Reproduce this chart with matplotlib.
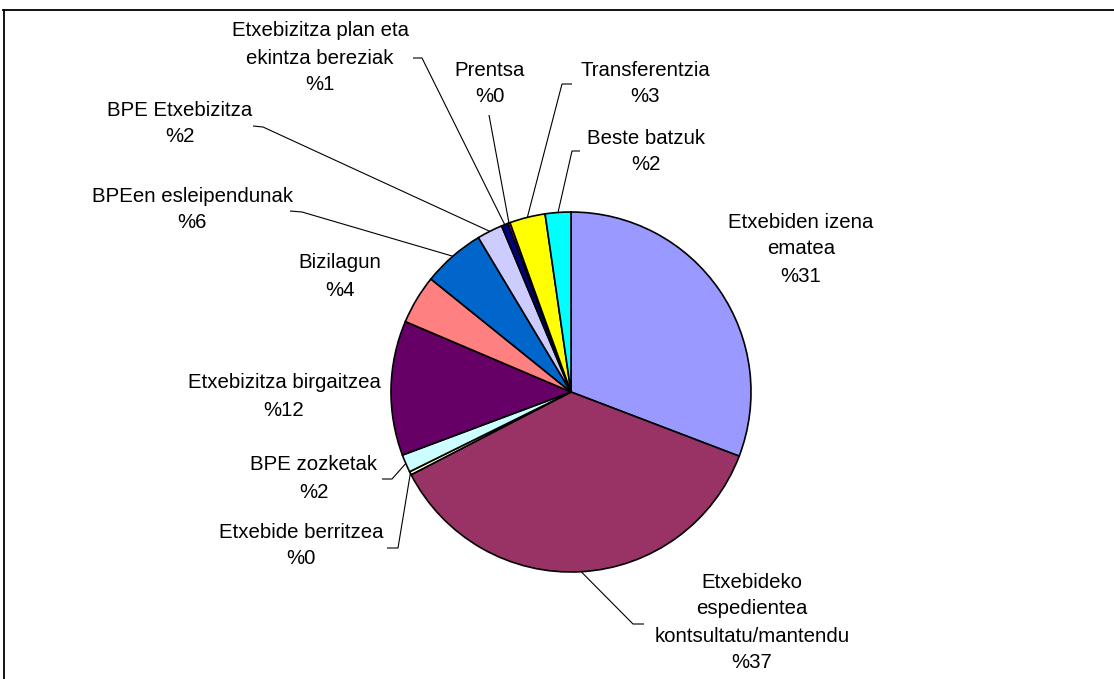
import numpy as np
import matplotlib
matplotlib.use("Agg")
import matplotlib.pyplot as plt
from matplotlib.lines import Line2D

W, H = 1114, 679

# ---- data (clockwise from 12 o'clock) ----
categories = [
    "Etxebiden izena\nematea",
    "Etxebideko\nespedientea\nkontsultatu/mantendu",
    "Etxebide berritzea",
    "BPE zozketak",
    "Etxebizitza birgaitzea",
    "Bizilagun",
    "BPEen esleipendunak",
    "BPE Etxebizitza",
    "Etxebizitza plan eta\nekintza bereziak",
    "Prentsa",
    "Transferentzia",
    "Beste batzuk",
]
values = [30.8, 36.6, 0.3, 1.6, 12.1, 4.4, 5.6, 2.3, 0.6, 0.2, 3.2, 2.3]
colors = ["#9999FF", "#993366", "#FFFFCC", "#CCFFFF", "#660066", "#FF8080",
          "#0066CC", "#CCCCFF", "#000080", "#FF00FF", "#FFFF00", "#00FFFF"]

# label layout (pixel coords, y downward): centre x, first line y
label_pos = [(801, 222), (752, 582), (301, 532), (314, 465), (284, 383),
             (340, 263), (192, 196), (180, 110), (320, 31), (490, 70),
             (645, 70), (646, 138)]
# leader line start segments (pixel coords) or None
leaders = [None,
           [(644, 624), (633, 624)],
           [(387, 548), (398, 548)],
           [(382, 479), (392, 479)],
           None, None,
           [(290, 211), (302, 212)],
           [(253, 126), (263, 127)],
           [(413, 58), (422, 58)],
           [(489, 115)],
           [(572, 84), (562, 84)],
           [(580, 151), (572, 151)]]

CX, CY, R = 571, 392, 180
LINE = 27

plt.rcParams['font.family'] = ['Liberation Sans', 'DejaVu Sans']

fig = plt.figure(figsize=(W / 100, H / 100), dpi=100)
ax = fig.add_axes([0, 0, 1, 1])

def Y(y):
    return H - y

wedges, _ = ax.pie(values, colors=colors, startangle=90, counterclock=False,
                   center=(CX, Y(CY)), radius=R,
                   wedgeprops=dict(edgecolor="black", linewidth=1.2))
ax.set_xlim(0, W)
ax.set_ylim(0, H)
ax.set_aspect("equal")
ax.axis("off")

# labels
for cat, v, (lx, ly) in zip(categories, values, label_pos):
    lines = cat.split("\n") + [f"%{int(v + 0.5)}"]
    for i, t in enumerate(lines):
        ax.text(lx, Y(ly + i * LINE), t, ha="center", va="center",
                fontsize=14.7, color="black")

# leader lines
for w, lead in zip(wedges, leaders):
    if lead is None:
        continue
    mid = np.deg2rad((w.theta1 + w.theta2) / 2)
    ex = CX + R * np.cos(mid)
    ey = Y(CY) + R * np.sin(mid)
    xs = [p[0] for p in lead] + [ex]
    ys = [Y(p[1]) for p in lead] + [ey]
    ax.plot(xs, ys, color="black", lw=0.8, solid_capstyle="butt")

# chart area border (top and left)
fig.add_artist(Line2D([3.5 / W, 3.5 / W], [0, Y(10) / H], transform=fig.transFigure,
                      color="black", lw=1.3))
fig.add_artist(Line2D([3 / W, 1], [Y(10) / H, Y(10) / H], transform=fig.transFigure,
                      color="black", lw=1.3))

fig.savefig("out.png", dpi=100)
